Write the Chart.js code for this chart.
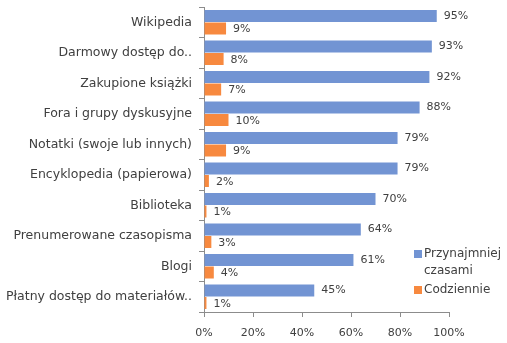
<!DOCTYPE html>
<html>
<head>
<meta charset="utf-8">
<script src="https://cdn.jsdelivr.net/npm/chart.js@4"></script>
<style>
	body { margin: 0; background: #fff; }
	#wrap { position: relative; width: 507px; height: 343px; }
	#legend { position: absolute; left: 414px; top: 245px; font-family: "DejaVu Sans", sans-serif; font-size: 12px; color: #404040; line-height: 17px; }
	#legend .item { position: relative; padding-left: 10px; }
	#legend .box { position: absolute; left: 0; top: 5px; width: 8px; height: 8px; }
</style>
</head>
<body>
<div id="wrap">
	<canvas id="myChart" width="507" height="343"></canvas>
	<div id="legend">
		<div class="item"><span class="box" style="background:#7294D3"></span>Przynajmniej<br>czasami</div>
		<div class="item" style="margin-top:2px"><span class="box" style="background:#F7893F"></span>Codziennie</div>
	</div>
</div>
<script>
//category names (top to bottom)
const categories = ['Wikipedia', 'Darmowy dostęp do..', 'Zakupione książki', 'Fora i grupy dyskusyjne', 'Notatki (swoje lub innych)', 'Encyklopedia (papierowa)', 'Biblioteka', 'Prenumerowane czasopisma', 'Blogi', 'Płatny dostęp do materiałów..'];
//series values in percent
const sometimes = [95, 93, 92, 88, 79, 79, 70, 64, 61, 45];
const daily = [9, 8, 7, 10, 9, 2, 1, 3, 4, 1];
const series_names = ['Przynajmniej czasami', 'Codziennie'];
const x_ticks = [0, 20, 40, 60, 80, 100];

const text_color = '#404040';
const axis_color = '#8C8C8C';

//draws the value labels right of each bar
const valueLabels = {
	id: 'valueLabels',
	afterDatasetsDraw(chart) {
		const ctx = chart.ctx;
		ctx.save();
		ctx.font = '11px "DejaVu Sans"';
		ctx.fillStyle = text_color;
		ctx.textBaseline = 'middle';
		ctx.textAlign = 'left';
		chart.data.datasets.forEach(function (ds, i) {
			const meta = chart.getDatasetMeta(i);
			meta.data.forEach(function (bar, j) {
				ctx.fillText(ds.data[j] + '%', bar.x + 7, bar.y + (i == 1 ? 1 : 0));
			});
		});
		ctx.restore();
	}
};

const ctx = document.getElementById('myChart');
const myChart = new Chart(ctx, {
	type: 'bar',
	data: {
		labels: categories,
		datasets: [
			{
				label: series_names[0],
				data: sometimes,
				backgroundColor: '#7294D3',
				categoryPercentage: 0.82,
				barPercentage: 0.96
			},
			{
				label: series_names[1],
				data: daily,
				backgroundColor: '#F7893F',
				categoryPercentage: 0.82,
				barPercentage: 0.96
			}
		]
	},
	options: {
		indexAxis: 'y',
		responsive: false,
		animation: false,
		layout: {
			padding: { top: 7, right: 58, left: 0, bottom: 0 }
		},
		plugins: {
			legend: { display: false },
			tooltip: { enabled: false }
		},
		scales: {
			x: {
				min: 0,
				max: 100,
				afterBuildTicks: function (scale) {
					scale.ticks = x_ticks.map(v => ({ value: v }));
				},
				afterFit: function (scale) {
					scale.height = 31;
				},
				border: { color: axis_color, width: 1 },
				grid: { drawOnChartArea: false, drawTicks: true, tickLength: 5, color: axis_color },
				ticks: {
					color: text_color,
					font: { family: 'DejaVu Sans', size: 11 },
					padding: 10,
					maxRotation: 0,
					callback: v => v + '%'
				}
			},
			y: {
				afterFit: function (scale) {
					scale.width = 204;
					scale.paddingTop = 0;
					scale.paddingBottom = 0;
				},
				border: { color: axis_color, width: 1 },
				grid: { drawOnChartArea: false, drawTicks: true, tickLength: 5, color: axis_color, offset: true },
				ticks: {
					color: text_color,
					font: { family: 'DejaVu Sans', size: 12.5 },
					padding: 7,
					autoSkip: false
				}
			}
		}
	},
	plugins: [valueLabels]
});
</script>
</body>
</html>
